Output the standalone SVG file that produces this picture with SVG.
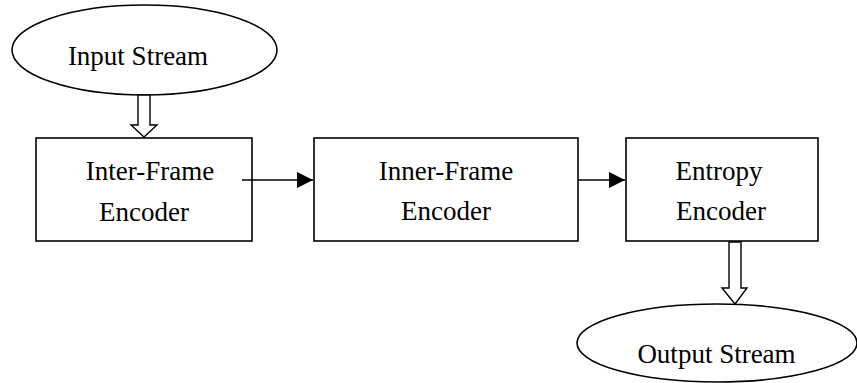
<svg xmlns="http://www.w3.org/2000/svg" width="857" height="383" viewBox="0 0 857 383">
<defs>
<style>
.s{fill:#fff;stroke:#000;stroke-width:1.6}
.t{font-family:"Liberation Serif","Times New Roman",serif;font-size:27px;fill:#000;text-anchor:middle}
.c{fill:none;stroke:#000;stroke-width:1.6}
.h{fill:#fff;stroke:#000;stroke-width:1.4;stroke-linejoin:miter}
</style>
<marker id="ah" viewBox="0 0 10 10" refX="10" refY="5" markerWidth="16" markerHeight="16" markerUnits="userSpaceOnUse" orient="auto">
<path d="M0,0 L10,5 L0,10 z" fill="#000"/>
</marker>
</defs>
<g id="input">
<ellipse class="s" cx="144.5" cy="50" rx="132.5" ry="45"/>
<text class="t" x="138" y="65">Input Stream</text>
</g>
<g id="inter">
<rect class="s" x="36" y="138" width="216" height="103"/>
<text class="t" x="150" y="180">Inter-Frame</text>
<text class="t" x="144" y="220.5">Encoder</text>
</g>
<g id="inner">
<rect class="s" x="314" y="138" width="264" height="103"/>
<text class="t" x="446" y="180">Inner-Frame</text>
<text class="t" x="446" y="220">Encoder</text>
</g>
<g id="entropy">
<rect class="s" x="626" y="138" width="192" height="103"/>
<text class="t" x="719" y="180">Entropy</text>
<text class="t" x="721" y="220">Encoder</text>
</g>
<g id="output">
<ellipse class="s" cx="717" cy="343" rx="140" ry="39"/>
<text class="t" x="716.5" y="363">Output Stream</text>
</g>
<g id="connectors">
<path class="h" d="M138,95 L150,95 L150,125 L157,125 L144,137 L131,125 L138,125 Z"/>
<line class="c" x1="242" y1="180" x2="313" y2="180" marker-end="url(#ah)"/>
<line class="c" x1="578" y1="180" x2="625" y2="180" marker-end="url(#ah)"/>
<path class="h" d="M729,242 L741,242 L741,288 L747,288 L735,304 L722,288 L729,288 Z"/>
</g>
</svg>
